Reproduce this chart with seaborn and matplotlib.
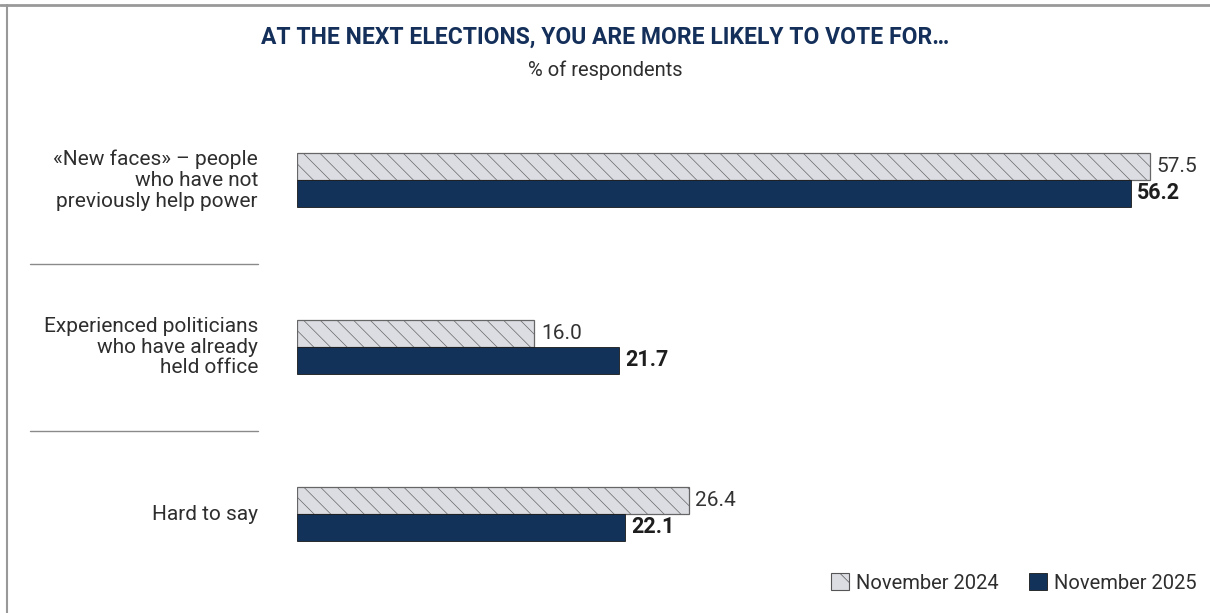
import matplotlib
matplotlib.use("Agg")
import matplotlib.pyplot as plt
import seaborn as sns
import pandas as pd
from matplotlib.patches import Patch
from matplotlib.lines import Line2D
import matplotlib.transforms as mtransforms

categories = ["«New faces» – people\nwho have not\npreviously help power",
              "Experienced politicians\nwho have already\nheld office",
              "Hard to say"]
series_names = ["November 2024", "November 2025"]
values_2024 = [57.5, 16.0, 26.4]
values_2025 = [56.2, 21.7, 22.1]

NAVY = "#12325a"
LIGHT = "#dcdde3"
TEXT = "#2e2e2e"

sns.set_theme(style="white")
plt.rcParams["font.family"] = ["Roboto", "DejaVu Sans"]
plt.rcParams["hatch.linewidth"] = 0.5
plt.rcParams["hatch.color"] = "#999999"

df = pd.DataFrame({
    "category": categories * 2,
    "series": [series_names[0]] * 3 + [series_names[1]] * 3,
    "value": values_2024 + values_2025,
})

W, H = 1210, 613
fig = plt.figure(figsize=(W / 100, H / 100), dpi=100)
ax = fig.add_axes([297 / W, 15.5 / H, 890 / W, 501 / H])

sns.barplot(data=df, y="category", x="value", hue="series", orient="h",
            palette=[LIGHT, NAVY], width=0.32, dodge=True, ax=ax,
            legend=False, saturation=1, gap=0)

ax.set_xlim(0, 60)
ax.set_ylim(2.5, -0.5)
ax.set_axis_off()

conts = ax.containers
for bar in conts[0]:
    bar.set_hatch("\\\\")
    bar.set_edgecolor("#666666")
    bar.set_linewidth(0.9)
for bar in conts[1]:
    bar.set_edgecolor("#1a1a1a")
    bar.set_linewidth(0.6)

for bar, v in zip(conts[0], values_2024):
    ax.text(bar.get_width() + 0.45, bar.get_y() + bar.get_height() / 2, f"{v:.1f}",
            ha="left", va="center", fontsize=15, color="#333333")
for bar, v in zip(conts[1], values_2025):
    ax.text(bar.get_width() + 0.45, bar.get_y() + bar.get_height() / 2, f"{v:.1f}",
            ha="left", va="center", fontsize=15.5, color="#1e1e1e", fontweight="bold")

trans = mtransforms.blended_transform_factory(fig.transFigure, ax.transData)
for i, cat in enumerate(categories):
    ax.text(258 / W, i, cat, transform=trans, ha="right", va="center",
            fontsize=15, color=TEXT, linespacing=1.13)
for yy in [0.5, 1.5]:
    ax.add_line(Line2D([30 / W, 258 / W], [yy, yy], transform=trans,
                       color="#8a8a8a", lw=1.0, clip_on=False))

fig.text(605 / W, 1 - 37 / H, "AT THE NEXT ELECTIONS, YOU ARE MORE LIKELY TO VOTE FOR…",
         ha="center", va="center", fontsize=16.5, fontweight="bold", color="#14305a")
fig.text(605 / W, 1 - 70 / H, "% of respondents", ha="center", va="center",
         fontsize=14.5, color=TEXT)

fig.add_artist(Line2D([0, 1], [1 - 5 / H, 1 - 5 / H], transform=fig.transFigure,
                      color="#999999", lw=2))
fig.add_artist(Line2D([7 / W, 7 / W], [0, 1 - 5 / H], transform=fig.transFigure,
                      color="#999999", lw=1.5))

handles = [Patch(facecolor=LIGHT, edgecolor="#555555", hatch="\\", lw=0.8),
           Patch(facecolor=NAVY, edgecolor="#1a1a1a", lw=0.6)]
leg = fig.legend(handles, series_names, loc="center right",
                 bbox_to_anchor=(1197 / W, 1 - 583 / H), ncol=2, frameon=False,
                 fontsize=14.5, handlelength=0.9, handleheight=0.9, handletextpad=0.35,
                 columnspacing=1.5, borderaxespad=0, borderpad=0)
for t in leg.get_texts():
    t.set_color(TEXT)

fig.savefig("out.png", dpi=100, facecolor="white")
